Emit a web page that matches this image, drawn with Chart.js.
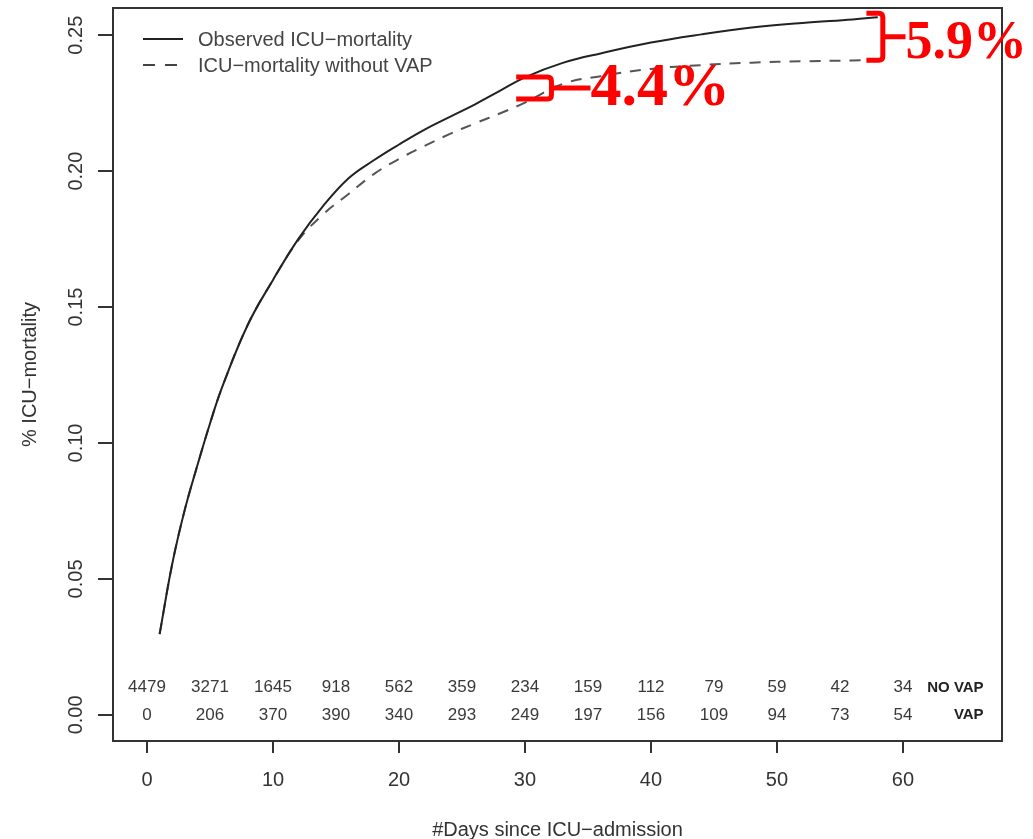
<!DOCTYPE html>
<html>
<head>
<meta charset="utf-8">
<script src="https://cdn.jsdelivr.net/npm/chart.js@4"></script>
<style>
  html, body { margin: 0; padding: 0; background: #fff; }
  #wrap { width: 1033px; height: 839px; position: relative; }
</style>
</head>
<body>
<div id="wrap"><canvas id="icuChart"></canvas></div>
<script>
const days = [1, 2, 3, 4, 5, 6, 8, 10, 12, 14, 16, 18, 20, 22, 24, 26, 28, 30, 33, 36, 40, 44, 48, 52, 56, 58];
const observed = [0.0297, 0.0555, 0.0755, 0.0918, 0.1072, 0.121, 0.1435, 0.160, 0.175, 0.1873, 0.1974, 0.204, 0.2098, 0.2152, 0.2199, 0.2245, 0.2295, 0.2345, 0.2398, 0.2433, 0.2473, 0.2503, 0.2528, 0.2545, 0.2558, 0.2566];
const withoutVap = [0.0297, 0.0555, 0.0755, 0.0918, 0.1072, 0.121, 0.1435, 0.160, 0.1745, 0.1842, 0.1916, 0.1989, 0.2045, 0.2092, 0.2136, 0.2175, 0.2212, 0.2252, 0.2321, 0.2349, 0.2376, 0.239, 0.2399, 0.2404, 0.2407, 0.2408];

// Number at risk
const riskDays = [0, 5, 10, 15, 20, 25, 30, 35, 40, 45, 50, 55, 60];
const riskNoVap = [4479, 3271, 1645, 918, 562, 359, 234, 159, 112, 79, 59, 42, 34];
const riskVap = [0, 206, 370, 390, 340, 293, 249, 197, 156, 109, 94, 73, 54];

const yTicks = [0, 0.05, 0.10, 0.15, 0.20, 0.25];

const legendItems = ['Observed ICU\u2212mortality', 'ICU\u2212mortality without VAP'];

// rote Markierungen: [x von, x bis, Stiel-Ende, y oben, y unten, Text, Schriftgröße, Text-Versatz]
const marks = [
    [29.3, 32.1, 35.2, 0.2346, 0.2265, '4.4%', 62, 1],
    [57.1, 58.4, 60.2, 0.2581, 0.2408, '5.9%', 54, 7]
];

Chart.defaults.font.family = '"Liberation Sans", Arial, sans-serif';
Chart.defaults.color = '#333';

const toXY = (vals) => days.map((d, i) => ({ x: d, y: vals[i] }));

const overlay = {
    id: 'overlay',
    afterDraw(chart) {
        const { ctx, chartArea: a, scales: { x, y } } = chart;
        ctx.save();

        // Rahmen
        ctx.strokeStyle = '#333';
        ctx.lineWidth = 2;
        ctx.strokeRect(a.left, a.top, a.right - a.left, a.bottom - a.top);

        // Legende
        ctx.font = '20px "Liberation Sans", Arial, sans-serif';
        ctx.textBaseline = 'middle';
        ctx.textAlign = 'left';
        const ly = [39, 65];
        legendItems.forEach((txt, i) => {
            ctx.beginPath();
            ctx.strokeStyle = i === 0 ? '#222' : '#444';
            ctx.lineWidth = 2;
            ctx.setLineDash(i === 0 ? [] : [12, 10]);
            ctx.moveTo(143, ly[i]);
            ctx.lineTo(183, ly[i]);
            ctx.stroke();
            ctx.setLineDash([]);
            ctx.fillStyle = '#444';
            ctx.fillText(txt, 198, ly[i] + 1);
        });

        // Zahlen unter Risiko
        ctx.font = '17px "Liberation Sans", Arial, sans-serif';
        ctx.textAlign = 'center';
        ctx.fillStyle = '#3a3a3a';
        riskDays.forEach((d, i) => {
            ctx.fillText(String(riskNoVap[i]), x.getPixelForValue(d), y.getPixelForValue(0.01));
            ctx.fillText(String(riskVap[i]), x.getPixelForValue(d), y.getPixelForValue(0));
        });
        ctx.font = 'bold 15px "Liberation Sans", Arial, sans-serif';
        ctx.textAlign = 'right';
        ctx.fillStyle = '#222';
        ctx.fillText('NO VAP', x.getPixelForValue(66.4), y.getPixelForValue(0.01));
        ctx.fillText('VAP', x.getPixelForValue(66.4), y.getPixelForValue(0));

        // rote Klammern
        ctx.strokeStyle = '#ff0000';
        ctx.fillStyle = '#ff0000';
        ctx.lineWidth = 5;
        ctx.lineCap = 'butt';
        marks.forEach(([x0v, x1v, x2v, topv, botv, txt, fs, dy]) => {
            const x0 = x.getPixelForValue(x0v), x1 = x.getPixelForValue(x1v), x2 = x.getPixelForValue(x2v);
            const yt = y.getPixelForValue(topv), yb = y.getPixelForValue(botv);
            const ym = (yt + yb) / 2, r = 4;
            ctx.beginPath();
            ctx.moveTo(x0, yt);
            ctx.lineTo(x1 - r, yt);
            ctx.quadraticCurveTo(x1, yt, x1, yt + r);
            ctx.lineTo(x1, yb - r);
            ctx.quadraticCurveTo(x1, yb, x1 - r, yb);
            ctx.lineTo(x0, yb);
            ctx.moveTo(x1, ym);
            ctx.lineTo(x2, ym);
            ctx.stroke();
            ctx.font = 'bold ' + fs + 'px "Liberation Serif", "Times New Roman", serif';
            ctx.textAlign = 'left';
            ctx.textBaseline = 'middle';
            ctx.fillText(txt, x2, ym + dy);
        });
        ctx.restore();
    }
};

new Chart(document.getElementById('icuChart'), {
    type: 'line',
    data: {
        datasets: [
            {
                label: legendItems[0],
                data: toXY(observed),
                borderColor: '#222',
                borderWidth: 2,
                pointRadius: 0,
                tension: 0.4,
                fill: false
            },
            {
                label: legendItems[1],
                data: toXY(withoutVap),
                borderColor: '#555',
                borderWidth: 2,
                borderDash: [11, 9],
                pointRadius: 0,
                tension: 0.4,
                fill: false
            }
        ]
    },
    options: {
        responsive: true,
        maintainAspectRatio: false,
        animation: false,
        layout: { padding: { left: 0, top: 8, right: 31, bottom: 0 } },
        plugins: {
            legend: { display: false },
            tooltip: { enabled: false }
        },
        scales: {
            x: {
                type: 'linear',
                min: -2.7,
                max: 67.86,
                afterFit(scale) {
                    scale.height = 98;
                    scale.paddingLeft = 0;
                    scale.paddingRight = 0;
                },
                grid: { drawOnChartArea: false, tickLength: 12, color: '#333', lineWidth: 2 },
                border: { display: true, color: '#333', width: 2 },
                ticks: {
                    stepSize: 10,
                    includeBounds: false,
                    padding: 15,
                    font: { size: 20 },
                    color: '#333',
                    maxRotation: 0
                },
                title: {
                    display: true,
                    text: '#Days since ICU\u2212admission',
                    font: { size: 20, lineHeight: 1 },
                    color: '#333',
                    padding: { top: 0, bottom: -1 }
                }
            },
            y: {
                type: 'linear',
                min: -0.0096,
                max: 0.26,
                afterFit(scale) {
                    scale.width = 113;
                    scale.paddingTop = 0;
                    scale.paddingBottom = 0;
                },
                afterBuildTicks(scale) { scale.ticks = yTicks.map(v => ({ value: v })); },
                grid: { drawOnChartArea: false, tickLength: 15, color: '#333', lineWidth: 2 },
                border: { display: true, color: '#333', width: 2 },
                ticks: {
                    minRotation: 90,
                    maxRotation: 90,
                    crossAlign: 'center',
                    padding: 2,
                    font: { size: 20 },
                    color: '#333',
                    callback: (v) => Number(v).toFixed(2)
                },
                title: {
                    display: true,
                    text: '% ICU\u2212mortality',
                    font: { size: 20 },
                    color: '#333',
                    padding: { top: 18, bottom: 0 }
                }
            }
        }
    },
    plugins: [overlay]
});
</script>
</body>
</html>
